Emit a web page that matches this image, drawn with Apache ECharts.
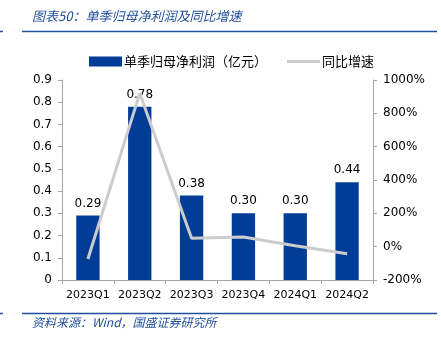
<!DOCTYPE html>
<html><head><meta charset="utf-8">
<script src="https://cdn.jsdelivr.net/npm/echarts@6/dist/echarts.min.js"></script>
<style>html,body{margin:0;padding:0;background:#fff}#c{width:441px;height:339px}</style>
</head><body><div id="c"></div>
<script>
const categories = ['2023Q1','2023Q2','2023Q3','2023Q4','2024Q1','2024Q2'];
const profit = [0.29, 0.78, 0.38, 0.30, 0.30, 0.44];
const growth = [-74, 920, 50, 58, 6, -42];
const profitLabels = ['0.29','0.78','0.38','0.30','0.30','0.44'];
const titleText = '图表50：单季归母净利润及同比增速';
const sourceText = '资料来源：Wind，国盛证券研究所';

const chart = echarts.init(document.getElementById('c'));
const numFont = 'DejaVu Sans';
const cjk = '"Noto Sans CJK SC"';
const blue = '#013d97';
chart.setOption({
  animation: false,
  textStyle: {fontFamily: numFont},
  graphic: [
    {type:'text', left:32, top:10, style:{text:titleText, font:'italic 13px "Noto Sans CJK SC"', fill:'#1f4e9c'}},
    {type:'line', shape:{x1:22,y1:31.5,x2:437,y2:31.5}, style:{stroke:'#1f4e9c', lineWidth:1.5}},
    {type:'line', shape:{x1:0,y1:31.5,x2:3,y2:31.5}, style:{stroke:'#1f4e9c', lineWidth:1.5}},
    {type:'line', shape:{x1:22,y1:313.5,x2:437,y2:313.5}, style:{stroke:'#1f4e9c', lineWidth:1.5}},
    {type:'line', shape:{x1:0,y1:313.5,x2:3,y2:313.5}, style:{stroke:'#1f4e9c', lineWidth:1.5}},
    {type:'text', left:32, top:316, style:{text:sourceText, font:'italic 12px "Noto Sans CJK SC"', fill:'#1f4e9c'}}
  ],
  legend: {
    left: 84, top: 50, itemWidth: 33, itemHeight: 10, itemGap: 20,
    textStyle: {fontFamily: cjk, fontSize: 13, color:'#000', padding:[0,0,0,-3]},
    data: [{name:'单季归母净利润（亿元）', icon:'rect'},
           {name:'同比增速', icon:'path://M0,0H33V3H0Z'}]
  },
  grid: {left: 62, right: 68, top: 80, bottom: 59},
  xAxis: {
    type: 'category', data: categories,
    axisLine: {lineStyle: {color: '#a6a6a6'}},
    axisTick: {show: true, length: 4, lineStyle:{color:'#a6a6a6'}},
    axisLabel: {color: '#000', fontSize: 11, margin: 10, interval: 0, fontFamily: numFont}
  },
  yAxis: [
    {type:'value', min:0, max:0.9, interval:0.1,
     axisLine:{show:true, lineStyle:{color:'#a6a6a6'}},
     axisTick:{show:true, length:4, lineStyle:{color:'#a6a6a6'}},
     splitLine:{show:false},
     axisLabel:{color:'#000', fontSize:12, margin:10, formatter: v => (Math.round(v*10)/10).toString()}},
    {type:'value', min:-200, max:1000, interval:200,
     axisLine:{show:true, lineStyle:{color:'#a6a6a6'}},
     axisTick:{show:true, length:4, lineStyle:{color:'#a6a6a6'}},
     splitLine:{show:false},
     axisLabel:{color:'#000', fontSize:12, margin:10, formatter: v => v + '%'}}
  ],
  series: [
    {name:'单季归母净利润（亿元）', type:'bar', data: profit, barWidth:'45%',
     itemStyle:{color: blue},
     label:{show:true, position:'top', color:'#000', fontSize:12, distance:6,
            formatter: p => profitLabels[p.dataIndex]}},
    {name:'同比增速', type:'line', yAxisIndex:1, data: growth, symbol:'none',
     lineStyle:{color:'#cccccc', width:3}, itemStyle:{color:'#cccccc'}}
  ]
});
</script></body></html>
